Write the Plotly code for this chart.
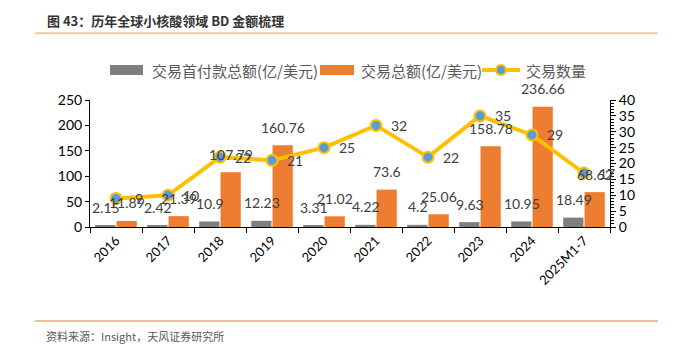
import plotly.graph_objects as go

categories = ["2016", "2017", "2018", "2019", "2020", "2021", "2022", "2023", "2024", "2025M1-7"]
upfront = [2.15, 2.42, 10.9, 12.23, 3.31, 4.22, 4.2, 9.63, 10.95, 18.49]
total = [11.89, 21.39, 107.79, 160.76, 21.02, 73.6, 25.06, 158.78, 236.66, 68.62]
deals = [9, 10, 22, 21, 25, 32, 22, 35, 29, 17]
series_names = ["交易首付款总额(亿/美元)", "交易总额(亿/美元)", "交易数量"]

OFF = 8  # browser body margin
W, H = 673 - OFF, 356 - OFF
L, R, T, B = 90, 610, 100, 227  # plot area in page pixels

def px(x):
    return (x - L) / (R - L)

def py(y):
    return (B - y) / (B - T)

GRAY = "#7F7F7F"
ORANGE = "#ED7D31"
GOLD = "#FFC000"
BLUE = "#5B9BD5"
TXT = "#404040"
NUMFONT = "Lato, Liberation Sans, sans-serif"
CJK = "Noto Sans CJK SC"

fig = go.Figure()
fig.add_trace(go.Bar(x=categories, y=upfront, name=series_names[0],
                     marker=dict(color=GRAY, line=dict(width=0)), yaxis="y"))
fig.add_trace(go.Bar(x=categories, y=total, name=series_names[1],
                     marker=dict(color=ORANGE, line=dict(width=0)), yaxis="y"))
fig.add_trace(go.Scatter(x=categories, y=deals, name=series_names[2], yaxis="y2",
                         mode="lines+markers",
                         line=dict(color=GOLD, width=4),
                         marker=dict(color=BLUE, size=11, line=dict(color=GOLD, width=2))))

ann = []
for i, v in enumerate(upfront):
    ann.append(dict(x=i, y=v, xref="x", yref="y", text=f"{v:g}", showarrow=False,
                    xshift=-10, yshift=18, font=dict(size=14, color=TXT, family=NUMFONT)))
for i, v in enumerate(total):
    ann.append(dict(x=i, y=v, xref="x", yref="y", text=f"{v:g}", showarrow=False,
                    xshift=11, yshift=18, font=dict(size=14, color=TXT, family=NUMFONT)))
for i, v in enumerate(deals):
    ann.append(dict(x=i, y=v, xref="x", yref="y2", text=f"{v:g}", showarrow=False,
                    xshift=23, yshift=0, font=dict(size=14, color=TXT, family=NUMFONT)))

ann.append(dict(x=px(45), y=py(20), xref="paper", yref="paper", xanchor="left", yanchor="middle",
                text="<b>图 43：历年全球小核酸领域 BD 金额梳理</b>", showarrow=False,
                font=dict(size=13, color="#333333", family=CJK)))
ann.append(dict(x=px(44), y=py(336), xref="paper", yref="paper", xanchor="left", yanchor="middle",
                text="资料来源：Insight，天风证券研究所", showarrow=False,
                font=dict(size=11, color="#595959", family=CJK)))

# custom legend (wide swatches like the reference)
LEG_Y = 70
leg_text_x = [150, 359, 524]
for name, tx in zip(series_names, leg_text_x):
    ann.append(dict(x=px(tx), y=py(LEG_Y), xref="paper", yref="paper", xanchor="left",
                    yanchor="middle", text=name, showarrow=False,
                    font=dict(size=15, color="#595959", family=CJK)))

shapes = [
    dict(type="line", xref="paper", yref="paper", x0=px(35), x1=px(658), y0=py(33.3), y1=py(33.3),
         line=dict(color="#F8C9A0", width=2)),
    dict(type="line", xref="paper", yref="paper", x0=px(35), x1=px(658), y0=py(321), y1=py(321),
         line=dict(color="#F0A870", width=1.5)),
    dict(type="rect", xref="paper", yref="paper", x0=px(110), x1=px(143), y0=py(LEG_Y - 5),
         y1=py(LEG_Y + 5), fillcolor=GRAY, line=dict(width=0)),
    dict(type="rect", xref="paper", yref="paper", x0=px(320), x1=px(354), y0=py(LEG_Y - 5),
         y1=py(LEG_Y + 5), fillcolor=ORANGE, line=dict(width=0)),
    dict(type="line", xref="paper", yref="paper", x0=px(482), x1=px(520), y0=py(LEG_Y),
         y1=py(LEG_Y), line=dict(color=GOLD, width=4)),
    dict(type="circle", xref="paper", yref="paper", x0=px(496), x1=px(506), y0=py(LEG_Y - 5),
         y1=py(LEG_Y + 5), fillcolor=BLUE, line=dict(color=GOLD, width=2)),
]

fig.update_layout(
    width=W, height=H,
    margin=dict(l=L - OFF, r=673 - R, t=T - OFF, b=356 - B, pad=0),
    paper_bgcolor="white", plot_bgcolor="white",
    barmode="group", bargap=0.18, bargroupgap=0.05,
    showlegend=False,
    xaxis=dict(type="category", range=[-0.5, len(categories) - 0.5], showline=True,
               linecolor="#000000", linewidth=1,
               ticks="outside", ticklen=5, tickcolor="#000000", tickson="boundaries",
               tickangle=-45, tickfont=dict(size=13, color="#000000", family=NUMFONT),
               showgrid=False, zeroline=False),
    yaxis=dict(range=[0, 250], dtick=50, showline=True, linecolor="#000000", linewidth=1,
               ticks="outside", ticklen=4, tickcolor="#000000",
               tickfont=dict(size=14, color="#000000", family=NUMFONT),
               showgrid=False, zeroline=False),
    yaxis2=dict(range=[0, 40], dtick=5, overlaying="y", side="right", showline=True,
                linecolor="#000000", linewidth=1, ticks="outside", ticklen=5, tickcolor="#000000",
                minor=dict(ticks="outside", ticklen=3, dtick=1, tickcolor="#000000"),
                tickfont=dict(size=14, color="#000000", family=NUMFONT),
                showgrid=False, zeroline=False),
    annotations=ann, shapes=shapes,
    font=dict(family=CJK),
)

fig.write_html("out.html")
